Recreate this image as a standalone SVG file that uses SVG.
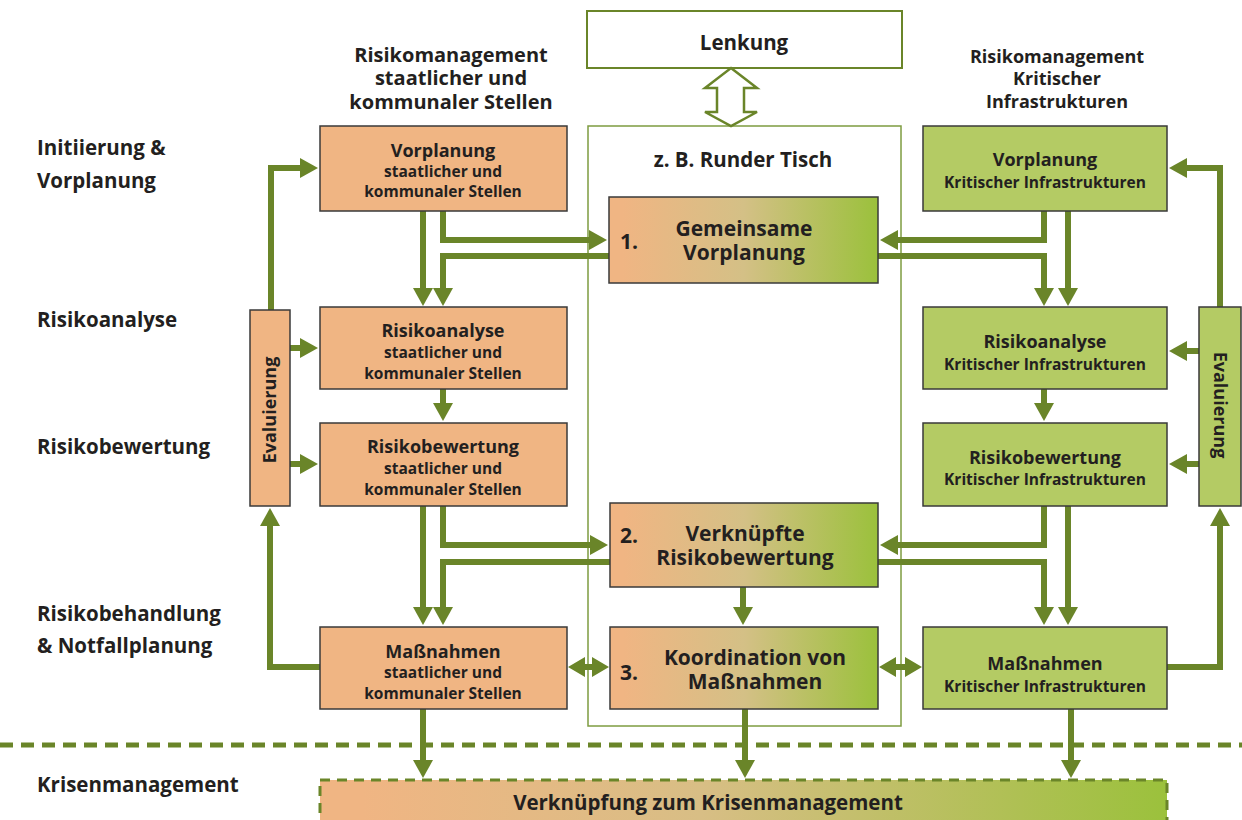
<svg xmlns="http://www.w3.org/2000/svg" width="1242" height="820" viewBox="0 0 1242 820">
<defs>
<style>
.t{font-family:"Open Sans","Noto Sans","DejaVu Sans",sans-serif;font-weight:700;fill:#231F20}
.lab{font-size:20.5px}
.hd{font-size:20px;text-anchor:middle}
.hdr{font-size:18px;text-anchor:middle}
.bt{font-size:18px;text-anchor:middle}
.bs{font-size:15.5px;text-anchor:middle}
.ct{font-size:21px;text-anchor:middle}
.num{font-size:21px}
.ob{fill:#F0B583;stroke:#3A3A3A;stroke-width:1.5}
.gb{fill:#B4CB64;stroke:#3A3A3A;stroke-width:1.5}
.mb{fill:url(#grad);stroke:#3A3A3A;stroke-width:1.5}
.c{fill:none;stroke:#6A8529;stroke-width:6;marker-end:url(#ah)}
.dh{fill:#6A8529}
</style>
<linearGradient id="grad" x1="0" y1="0" x2="1" y2="0">
<stop offset="0.05" stop-color="#F0B583"/>
<stop offset="0.5" stop-color="#D4C086"/>
<stop offset="1" stop-color="#9BC13C"/>
</linearGradient>
<linearGradient id="gradbar" x1="0" y1="0" x2="1" y2="0">
<stop offset="0.05" stop-color="#F0B583"/>
<stop offset="0.45" stop-color="#D8BE85"/>
<stop offset="1" stop-color="#9BC13C"/>
</linearGradient>
<marker id="ah" markerUnits="userSpaceOnUse" markerWidth="18" markerHeight="20" refX="2" refY="10" orient="auto">
<path d="M0,0 L18,10 L0,20 z" fill="#6A8529"/>
</marker>
</defs>
<rect width="1242" height="820" fill="#FFFFFF"/>

<g id="labels">
<text class="t lab" x="37" y="155">Initiierung &amp;</text>
<text class="t lab" x="37" y="188">Vorplanung</text>
<text class="t lab" x="37" y="327">Risikoanalyse</text>
<text class="t lab" x="37" y="454">Risikobewertung</text>
<text class="t lab" x="37" y="621">Risikobehandlung</text>
<text class="t lab" x="37" y="653">&amp; Notfallplanung</text>
<text class="t lab" x="37" y="792">Krisenmanagement</text>
</g>

<g id="header-left">
<text class="t hd" x="451" y="62">Risikomanagement</text>
<text class="t hd" x="451" y="85">staatlicher und</text>
<text class="t hd" x="451" y="109">kommunaler Stellen</text>
</g>
<g id="header-right">
<text class="t hdr" x="1057" y="63">Risikomanagement</text>
<text class="t hdr" x="1057" y="85">Kritischer</text>
<text class="t hdr" x="1057" y="108">Infrastrukturen</text>
</g>

<g id="lenkung">
<rect x="587" y="11" width="315" height="57" fill="#FFFFFF" stroke="#6A8529" stroke-width="2"/>
<text class="t" x="744" y="50" font-size="20.5" text-anchor="middle">Lenkung</text>
</g>

<g id="runder-tisch">
<rect x="588" y="126" width="313" height="600" fill="none" stroke="#7E9C40" stroke-width="1.5"/>
<text class="t" x="743" y="167" font-size="20.5" text-anchor="middle">z. B. Runder Tisch</text>
</g>

<g id="connectors">
<polygon points="731,68 757,88 744,88 744,112 757,112 731,126 705,112 717,112 717,88 705,88" fill="#FFFFFF" stroke="#6A8529" stroke-width="2.5" stroke-linejoin="miter"/>
<!-- left -->
<path class="c" d="M423,211 V290"/>
<path class="c" d="M443,211 V240 H591"/>
<path class="c" d="M609,256 H443 V290"/>
<path class="c" d="M271,311 V168 H302"/>
<path class="c" d="M290,348 H302"/>
<path class="c" d="M290,464 H302"/>
<path class="c" d="M443,389 V405"/>
<path class="c" d="M423,506 V609"/>
<path class="c" d="M443,506 V545 H592"/>
<path class="c" d="M610,562 H443 V609"/>
<path class="c" d="M320,667 H270 V524"/>
<path class="c" d="M423,709 V762"/>
<!-- center -->
<path class="c" d="M743,587 V609"/>
<path class="c" d="M745,709 V762"/>
<polygon class="dh" points="568,667 585,657 585,664 592,664 592,657 609,667 592,677 592,670 585,670 585,677"/>
<polygon class="dh" points="879,667 896,657 896,664 905,664 905,657 922,667 905,677 905,670 896,670 896,677"/>
<!-- right -->
<path class="c" d="M1044,211 V240 H896"/>
<path class="c" d="M878,256 H1044 V290"/>
<path class="c" d="M1068,211 V290"/>
<path class="c" d="M1220,307 V168 H1185"/>
<path class="c" d="M1199,351 H1185"/>
<path class="c" d="M1199,464 H1185"/>
<path class="c" d="M1044,389 V405"/>
<path class="c" d="M1044,506 V545 H896"/>
<path class="c" d="M878,562 H1044 V609"/>
<path class="c" d="M1068,506 V609"/>
<path class="c" d="M1167,667 H1220 V524"/>
<path class="c" d="M1071,709 V762"/>
</g>

<g id="eval-left">
<rect class="ob" x="250" y="310" width="40" height="196"/>
<text class="t" x="0" y="0" font-size="18" text-anchor="middle" transform="translate(276,410) rotate(-90)">Evaluierung</text>
</g>
<g id="eval-right">
<rect class="gb" x="1199" y="307" width="42" height="199"/>
<text class="t" x="0" y="0" font-size="18" text-anchor="middle" transform="translate(1214,405) rotate(90)">Evaluierung</text>
</g>

<g id="vorplanung-s">
<rect class="ob" x="320" y="126" width="247" height="85"/>
<text class="t bt" x="443" y="157">Vorplanung</text>
<text class="t bs" x="443" y="177">staatlicher und</text>
<text class="t bs" x="443" y="197">kommunaler Stellen</text>
</g>
<g id="risikoanalyse-s">
<rect class="ob" x="320" y="307" width="247" height="82"/>
<text class="t bt" x="443" y="337">Risikoanalyse</text>
<text class="t bs" x="443" y="358">staatlicher und</text>
<text class="t bs" x="443" y="379">kommunaler Stellen</text>
</g>
<g id="risikobewertung-s">
<rect class="ob" x="320" y="423" width="247" height="83"/>
<text class="t bt" x="443" y="453">Risikobewertung</text>
<text class="t bs" x="443" y="474">staatlicher und</text>
<text class="t bs" x="443" y="495">kommunaler Stellen</text>
</g>
<g id="massnahmen-s">
<rect class="ob" x="320" y="627" width="247" height="82"/>
<text class="t bt" x="443" y="658">Maßnahmen</text>
<text class="t bs" x="443" y="678">staatlicher und</text>
<text class="t bs" x="443" y="699">kommunaler Stellen</text>
</g>

<g id="vorplanung-k">
<rect class="gb" x="923" y="126" width="244" height="85"/>
<text class="t bt" x="1045" y="166">Vorplanung</text>
<text class="t bs" x="1045" y="188">Kritischer Infrastrukturen</text>
</g>
<g id="risikoanalyse-k">
<rect class="gb" x="923" y="307" width="244" height="82"/>
<text class="t bt" x="1045" y="348">Risikoanalyse</text>
<text class="t bs" x="1045" y="370">Kritischer Infrastrukturen</text>
</g>
<g id="risikobewertung-k">
<rect class="gb" x="923" y="423" width="244" height="83"/>
<text class="t bt" x="1045" y="464">Risikobewertung</text>
<text class="t bs" x="1045" y="485">Kritischer Infrastrukturen</text>
</g>
<g id="massnahmen-k">
<rect class="gb" x="923" y="627" width="244" height="82"/>
<text class="t bt" x="1045" y="670">Maßnahmen</text>
<text class="t bs" x="1045" y="692">Kritischer Infrastrukturen</text>
</g>

<g id="gemeinsame-vorplanung">
<rect class="mb" x="609" y="197" width="269" height="86"/>
<text class="t num" x="620" y="249">1.</text>
<text class="t ct" x="744" y="236">Gemeinsame</text>
<text class="t ct" x="744" y="260">Vorplanung</text>
</g>
<g id="verknuepfte-risikobewertung">
<rect class="mb" x="610" y="503" width="268" height="84"/>
<text class="t num" x="620" y="543">2.</text>
<text class="t ct" x="745" y="541">Verknüpfte</text>
<text class="t ct" x="745" y="565">Risikobewertung</text>
</g>
<g id="koordination">
<rect class="mb" x="610" y="627" width="268" height="82"/>
<text class="t num" x="620" y="680">3.</text>
<text class="t ct" x="755" y="665">Koordination von</text>
<text class="t ct" x="755" y="689">Maßnahmen</text>
</g>

<g id="trennlinie">
<line x1="0" y1="745" x2="1242" y2="745" stroke="#6A8529" stroke-width="5" stroke-dasharray="13 8"/>
</g>

<g id="krisenmanagement-bar">
<rect x="320" y="780" width="847" height="45" fill="url(#gradbar)" stroke="#6A8529" stroke-width="3" stroke-dasharray="10 7"/>
<text class="t" x="708" y="810" font-size="20.5" text-anchor="middle">Verknüpfung zum Krisenmanagement</text>
</g>
</svg>
